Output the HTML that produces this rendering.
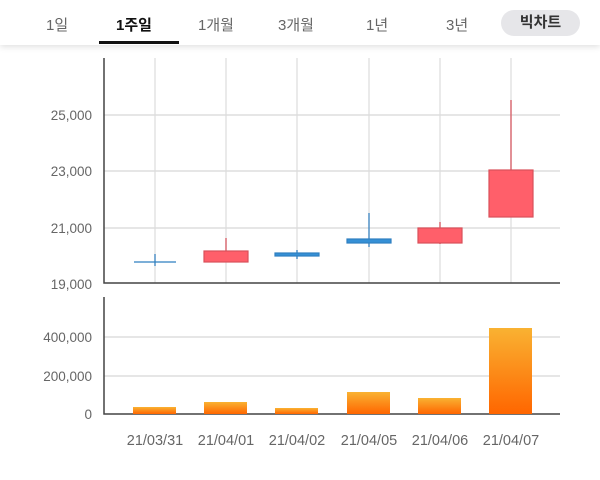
<!DOCTYPE html><html><head><meta charset="utf-8"><style>
body{margin:0;width:600px;height:480px;background:#fff;overflow:hidden;font-family:"Liberation Sans","Noto Sans CJK KR",sans-serif}
.hd{position:absolute;left:0;top:0;width:600px;height:45px;background:#fff;box-shadow:0 2px 6px rgba(0,0,0,.12)}
.t{position:absolute;top:14px;font-size:15px;color:#666}
</style></head><body>
<div class="hd">
<span class="t" style="left:46px">1일</span>
<span class="t" style="left:116px;color:#111;font-weight:bold">1주일</span>
<span class="t" style="left:198px">1개월</span>
<span class="t" style="left:278px">3개월</span>
<span class="t" style="left:366px">1년</span>
<span class="t" style="left:446px">3년</span>
<div style="position:absolute;left:99px;top:41px;width:80px;height:3px;background:#111"></div>
<div style="position:absolute;left:501px;top:10px;width:79px;height:26px;border-radius:13px;background:#e6e6e9;color:#333;font-weight:bold;font-size:15px;text-align:center;line-height:26px">빅차트</div>
</div>
<svg width="600" height="480" style="position:absolute;left:0;top:0" font-family="Liberation Sans, sans-serif" font-size="13.5" fill="#666">
<defs><linearGradient id="g" x1="0" y1="0" x2="0" y2="1"><stop offset="0" stop-color="#f9b232"/><stop offset="1" stop-color="#ff6600"/></linearGradient></defs>
<g stroke="#e4e4e4" stroke-width="1.5">
<line x1="155" y1="58" x2="155" y2="283"/><line x1="226" y1="58" x2="226" y2="283"/><line x1="297" y1="58" x2="297" y2="283"/><line x1="369" y1="58" x2="369" y2="283"/><line x1="440" y1="58" x2="440" y2="283"/><line x1="511" y1="58" x2="511" y2="283"/>
</g>
<g stroke="#ddd" stroke-width="1.5"><line x1="104" y1="115" x2="560" y2="115"/><line x1="104" y1="171" x2="560" y2="171"/><line x1="104" y1="228" x2="560" y2="228"/><line x1="104" y1="337" x2="560" y2="337"/><line x1="104" y1="376" x2="560" y2="376"/></g>
<g stroke="#444" stroke-width="1.5" fill="none"><polyline points="104,58 104,283 560,283"/><polyline points="104,297 104,414 560,414"/></g>
<g text-anchor="end"><text x="92" y="120">25,000</text><text x="92" y="176">23,000</text><text x="92" y="233">21,000</text><text x="92" y="289">19,000</text>
<text x="92" y="342">400,000</text><text x="92" y="381">200,000</text><text x="92" y="419">0</text></g>
<g stroke="#2f7fc0" fill="#3590d6" stroke-width="1.2">
<line x1="155" y1="254" x2="155" y2="266"/><line x1="134" y1="262" x2="176" y2="262"/>
<line x1="297" y1="250" x2="297" y2="259"/><rect x="275" y="253" width="44" height="3"/>
<line x1="369" y1="213" x2="369" y2="247"/><rect x="347" y="239" width="44" height="4"/>
</g>
<g stroke="#d9505a" fill="#ff5f6a" stroke-width="1.2">
<line x1="226" y1="238" x2="226" y2="251"/><rect x="204" y="251" width="44" height="11"/>
<line x1="440" y1="222" x2="440" y2="244"/><rect x="418" y="228" width="44" height="15"/>
<line x1="511" y1="100" x2="511" y2="170"/><rect x="489" y="170" width="44" height="47"/>
</g>
<g fill="url(#g)"><rect x="133" y="407" width="43" height="7"/><rect x="204" y="402" width="43" height="12"/><rect x="275" y="408" width="43" height="6"/><rect x="347" y="392" width="43" height="22"/><rect x="418" y="398" width="43" height="16"/><rect x="489" y="328" width="43" height="86"/></g>
<g text-anchor="middle" font-size="14.5"><text x="155" y="445">21/03/31</text><text x="226" y="445">21/04/01</text><text x="297" y="445">21/04/02</text><text x="369" y="445">21/04/05</text><text x="440" y="445">21/04/06</text><text x="511" y="445">21/04/07</text></g>
</svg>
</body></html>
